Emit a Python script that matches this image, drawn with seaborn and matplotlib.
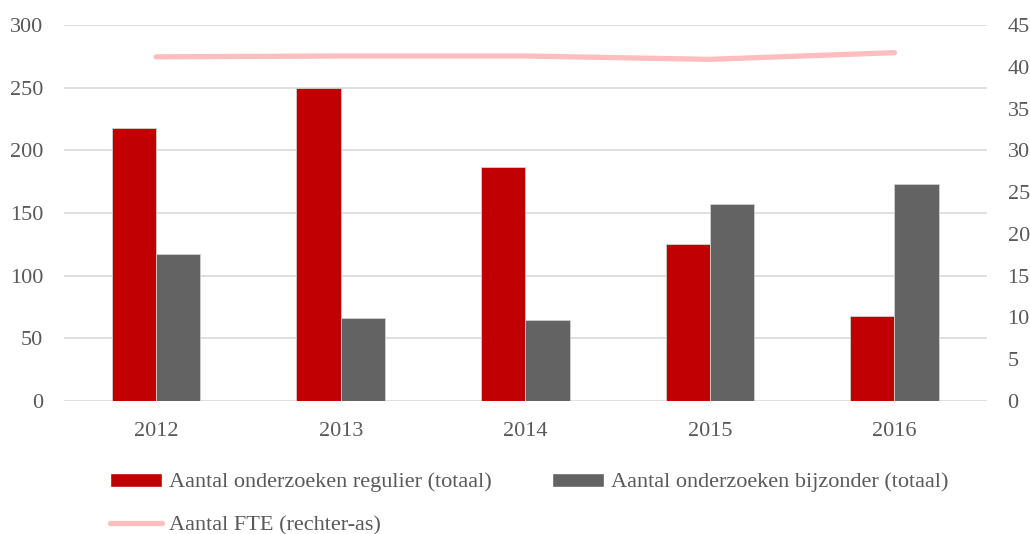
import matplotlib
matplotlib.use("Agg")
import matplotlib.pyplot as plt
import seaborn as sns
import pandas as pd
from matplotlib.patches import Patch
from matplotlib.lines import Line2D

# data
jaren = ["2012", "2013", "2014", "2015", "2016"]
regulier = [218, 250, 187, 125, 68]
bijzonder = [117, 66, 65, 157, 173]
fte = [41.2, 41.3, 41.3, 40.9, 41.7]

lbl_reg = "Aantal onderzoeken regulier (totaal)"
lbl_bij = "Aantal onderzoeken bijzonder (totaal)"
lbl_fte = "Aantal FTE (rechter-as)"

rood = "#C00000"
grijs = "#636363"
roze = "#FFBDBD"
tekst = "#595959"

sns.set_style("white")
plt.rcParams["font.family"] = ["Liberation Serif", "DejaVu Serif"]

df = pd.DataFrame({
    "jaar": jaren * 2,
    "waarde": regulier + bijzonder,
    "reeks": [lbl_reg] * 5 + [lbl_bij] * 5,
})

fig = plt.figure(figsize=(10.3, 5.34), dpi=100)
ax = fig.add_axes([0.062, 0.249, 0.896, 0.704])

sns.barplot(data=df, x="jaar", y="waarde", hue="reeks", palette=[rood, grijs],
            saturation=1, width=0.48, edgecolor="#D0D0D0", linewidth=0.6,
            ax=ax, legend=False)
ax.set_xlim(-0.5, 4.5)
ax.set_ylim(0, 300)
ax.set_yticks(range(0, 301, 50))
ax.yaxis.grid(True, color="#D9D9D9", linewidth=1.2)
ax.set_axisbelow(True)
ax.set_xlabel("")
ax.set_ylabel("")
for s in ax.spines.values():
    s.set_visible(False)
ax.tick_params(axis="both", length=0, labelsize=16, labelcolor=tekst)
ax.tick_params(axis="x", pad=15)
ax.tick_params(axis="y", pad=15)

ax2 = ax.twinx()
sns.lineplot(x=range(len(jaren)), y=fte, color=roze, linewidth=3.8, ax=ax2,
             solid_capstyle="round")
ax2.set_ylim(0, 45)
ax2.set_yticks(range(0, 46, 5))
for s in ax2.spines.values():
    s.set_visible(False)
ax2.tick_params(axis="y", length=0, labelsize=16, labelcolor=tekst, pad=15)
ax2.set_ylabel("")

handles = [
    Patch(facecolor=rood, label=lbl_reg),
    Line2D([0], [0], color=roze, linewidth=3.8, solid_capstyle="round", label=lbl_fte),
    Patch(facecolor=grijs, label=lbl_bij),
]
fig.legend(handles=handles, ncol=2, loc="upper left", bbox_to_anchor=(0.107, 0.115),
           frameon=False, fontsize=16, labelcolor=tekst, handlelength=2.35,
           handleheight=0.6, handletextpad=0.3, columnspacing=2.7, labelspacing=1.05,
           borderaxespad=0, borderpad=0)

fig.savefig("out.png", dpi=100)
